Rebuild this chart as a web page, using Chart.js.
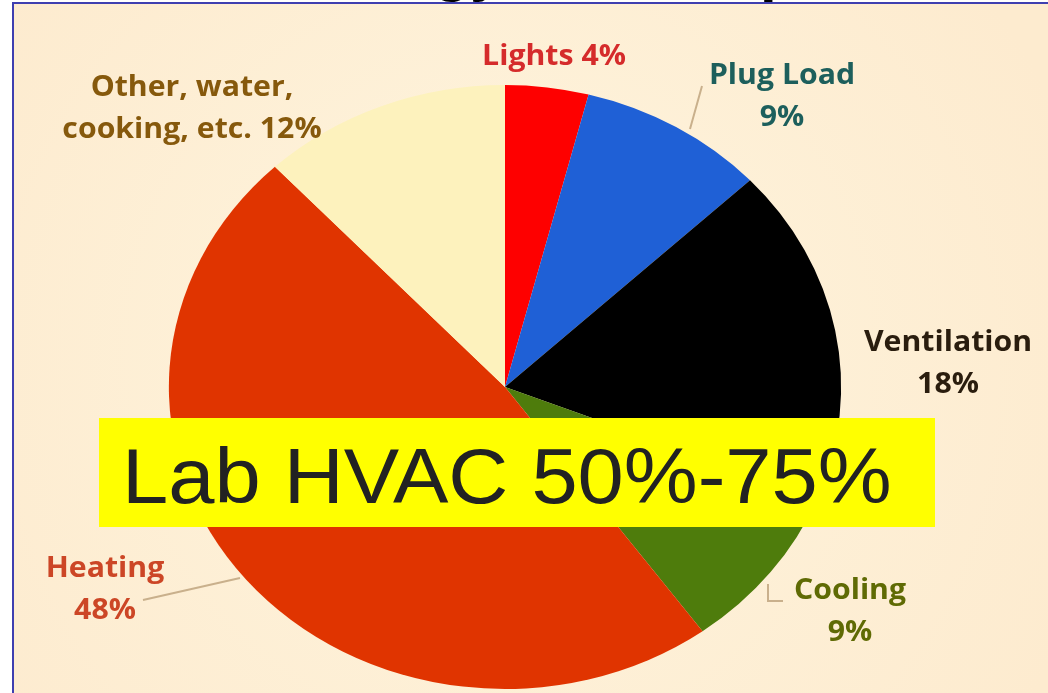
<!DOCTYPE html>
<html>
<head>
<meta charset="utf-8">
<script src="https://cdn.jsdelivr.net/npm/chart.js@4"></script>
<style>
  body { margin: 0; background: #fff; }
  #wrap { position: relative; width: 1048px; height: 693px; }
</style>
</head>
<body>
<div id="wrap"><canvas id="myChart"></canvas></div>
<script>
// data
var categories = ['Lights', 'Plug Load', 'Ventilation', 'Cooling', 'Heating', 'Other, water, cooking, etc.'];
var shares = [4, 9, 18, 9, 48, 12];
var sliceColors = ['#fe0000', '#1f60d6', '#000000', '#4e7c0c', '#e03400', '#fdf2bd'];
var banner = 'Lab HVAC 50%-75%';

// callout text built from the data
var callouts = [
    [categories[0] + ' ' + shares[0] + '%'],
    [categories[1], shares[1] + '%'],
    [categories[2], shares[2] + '%'],
    [categories[3], shares[3] + '%'],
    [categories[4], shares[4] + '%'],
    ['Other, water,', 'cooking, etc. ' + shares[5] + '%']
];
var calloutPos = [[554, 57], [782, 76], [948, 343], [850, 591], [105, 569], [192, 88]];
var calloutColor = ['#d52b2b', '#1d5f5c', '#2a1d0e', '#5f6a04', '#cc4626', '#86590c'];

var stretchX = 1.113;

var backdrop = {
    id: 'backdrop',
    beforeDraw: function(chart) {
        var ctx = chart.ctx;
        ctx.save();
        ctx.fillStyle = '#ffffff';
        ctx.fillRect(0, 0, 1048, 693);
        // cut-off title above frame
        ctx.fillStyle = '#000';
        ctx.font = 'bold 60px "Liberation Sans", Arial, sans-serif';
        ctx.textBaseline = 'alphabetic';
        ctx.fillText('Energy Consumption', 300, -10);
        var g = ctx.createRadialGradient(500, 330, 40, 500, 380, 620);
        g.addColorStop(0, '#fef4dd');
        g.addColorStop(1, '#fdebcf');
        ctx.fillStyle = g;
        ctx.fillRect(14, 4, 1034, 689);
        ctx.fillStyle = '#3f3fb0';
        ctx.fillRect(12, 2, 1036, 2);
        ctx.fillRect(12, 2, 2, 691);
        ctx.restore();
    },
    beforeDatasetsDraw: function(chart) {
        var ctx = chart.ctx;
        var arc = chart.getDatasetMeta(0).data[0];
        ctx.save();
        ctx.translate(arc.x, arc.y);
        ctx.scale(stretchX, 1);
        ctx.translate(-arc.x, -arc.y);
    },
    afterDatasetsDraw: function(chart) {
        chart.ctx.restore();
    },
    afterDraw: function(chart) {
        var ctx = chart.ctx;
        ctx.save();
        // leader lines
        ctx.strokeStyle = '#c9b08c';
        ctx.lineWidth = 2;
        ctx.beginPath();
        ctx.moveTo(702, 86); ctx.lineTo(690, 129);
        ctx.moveTo(143, 600); ctx.lineTo(240, 578);
        ctx.moveTo(768, 584); ctx.lineTo(768, 601); ctx.lineTo(783, 601);
        ctx.stroke();

        ctx.textAlign = 'center';
        ctx.textBaseline = 'middle';
        ctx.font = 'bold 28px "Open Sans", sans-serif';
        for (var i = 0; i < callouts.length; i++) {
            ctx.fillStyle = calloutColor[i];
            for (var j = 0; j < callouts[i].length; j++) {
                ctx.save();
                ctx.translate(calloutPos[i][0], calloutPos[i][1] + j * 42);
                ctx.scale(1.08, 1);
                ctx.fillText(callouts[i][j], 0, 0);
                ctx.restore();
            }
        }

        // banner
        ctx.fillStyle = '#ffff00';
        ctx.fillRect(99, 418, 836, 109);
        ctx.fillStyle = '#222222';
        ctx.textAlign = 'left';
        ctx.textBaseline = 'alphabetic';
        ctx.font = '78px "Liberation Sans", Arial, sans-serif';
        ctx.translate(122, 503);
        ctx.scale(1.065, 1);
        ctx.fillText(banner, 0, 0);
        ctx.restore();
    }
};

var myChart = new Chart(document.getElementById('myChart'), {
    type: 'pie',
    data: {
        labels: categories,
        datasets: [{
            data: shares,
            backgroundColor: sliceColors,
            borderWidth: 0
        }]
    },
    options: {
        responsive: true,
        maintainAspectRatio: false,
        animation: false,
        layout: { padding: { top: 85, bottom: 4, left: 155, right: 193 } },
        plugins: {
            legend: { display: false },
            tooltip: { enabled: false }
        }
    },
    plugins: [backdrop]
});
</script>
</body>
</html>
